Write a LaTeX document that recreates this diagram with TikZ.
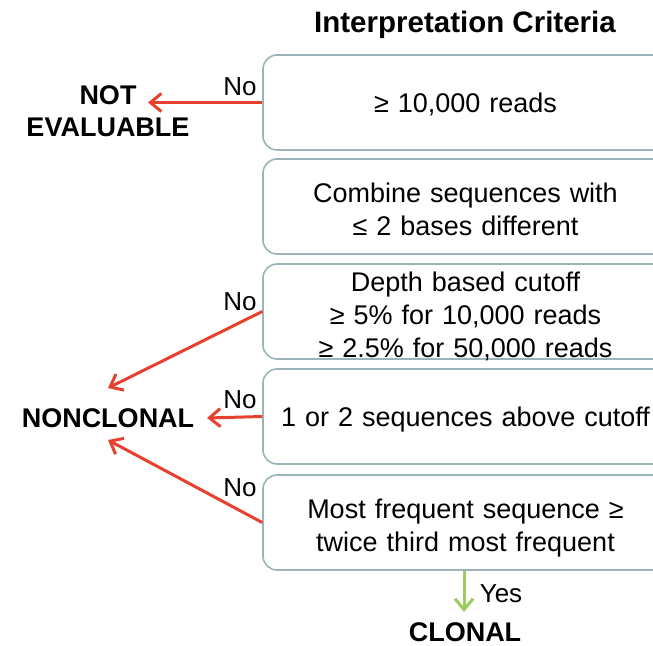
\documentclass[tikz,border=0pt]{standalone}
\usepackage{fontspec}
\setmainfont{Liberation Sans}
\usetikzlibrary{arrows.meta}
\definecolor{boxgray}{HTML}{9CB3B7}
\definecolor{nored}{HTML}{E8402E}
\definecolor{yesgreen}{HTML}{9CCB5E}
\begin{document}
\begin{tikzpicture}[x=1pt,y=-1pt,
 crit/.style={draw=boxgray, line width=1.6pt, rounded corners=14pt, minimum width=405pt, minimum height=95pt, inner sep=0pt},
 crittext/.style={text width=400pt, align=center, inner sep=0pt, font=\fontsize{27}{33}\selectfont},
 lbl/.style={font=\fontsize{27}{32}\selectfont\bfseries, align=center, inner sep=0pt},
 ans/.style={font=\fontsize{26}{30}\selectfont, inner sep=0pt},
 noarrow/.style={draw=nored, line width=3pt, -{Straight Barb[length=11pt,width=18pt,line width=3pt]}},
 yesarrow/.style={draw=yesgreen, line width=3pt, -{Straight Barb[length=11pt,width=18pt,line width=3pt]}},
]
\useasboundingbox (0,0) rectangle (653,645);
\node[lbl, font=\fontsize{29.5}{32}\selectfont\bfseries] (title) at (465,25) {Interpretation Criteria};
\begin{scope}
\clip (0,0) rectangle (653,645);
\node[crit] (b1) at (465.5,102.5) {};
\node[crit] (b2) at (465.5,206.5) {};
\node[crit] (b3) at (465.5,311.5) {};
\node[crit] (b4) at (465.5,416.5) {};
\node[crit] (b5) at (465.5,522.5) {};
\end{scope}
\node[crittext] (t1) at (465.5,104) {≥ 10,000 reads};
\node[crittext] (t2) at (465.5,209.5) {Combine sequences with\\≤ 2 bases different};
\node[crittext] (t3) at (465.5,316.5) {Depth based cutoff\\≥ 5\% for 10,000 reads\\≥ 2.5\% for 50,000 reads};
\node[crittext] (t4) at (465.5,420) {1 or 2 sequences above cutoff};
\node[crittext] (t5) at (465.5,528.5) {Most frequent sequence ≥\\twice third most frequent};
\node[lbl] (ne) at (108,111) {NOT\\EVALUABLE};
\node[lbl] (nc) at (108,418) {NONCLONAL};
\node[lbl] (cl) at (465,632) {CLONAL};
\coordinate (neT) at (148,102.5);
\coordinate (ncTop) at (108,388);
\coordinate (ncRight) at (207,418);
\coordinate (ncBot) at (108,440);
\coordinate (clT) at (464,612);
\draw[noarrow] (b1.west) -- (neT);
\draw[noarrow] (b3.west) -- (ncTop);
\draw[noarrow] (b4.west) -- (ncRight);
\draw[noarrow] (b5.west) -- (ncBot);
\draw[yesarrow] (b5.south -| clT) -- (clT);
\node[ans] (no1) at (240,87) {No};
\node[ans] (no2) at (240,302) {No};
\node[ans] (no3) at (240,400) {No};
\node[ans] (no4) at (240,488) {No};
\node[ans] (yes) at (501,594) {Yes};
\end{tikzpicture}
\end{document}
